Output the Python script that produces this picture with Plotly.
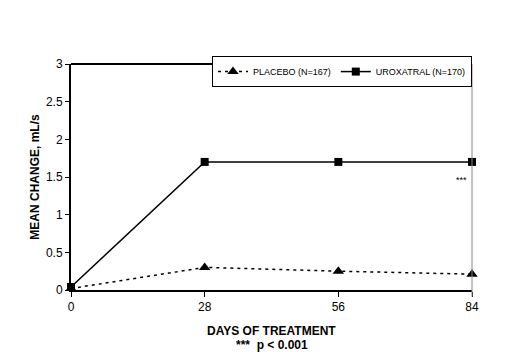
import plotly.graph_objects as go

days = [0, 28, 56, 84]
placebo = [0.02, 0.30, 0.25, 0.21]
uroxatral = [0.04, 1.70, 1.70, 1.70]
x_ticks = [0, 28, 56, 84]
y_ticks = [0, 0.5, 1, 1.5, 2, 2.5, 3]
y_tick_labels = ["0", "0.5", "1", "1.5", "2", "2.5", "3"]

font = "Liberation Sans, Arial, sans-serif"

fig = go.Figure()
fig.add_trace(go.Scatter(
    x=days, y=placebo, name="PLACEBO (N=167)", mode="lines+markers",
    line=dict(color="black", width=1.5, dash="3px,4px"),
    marker=dict(symbol="triangle-up", size=10, color="black"),
    cliponaxis=False,
))
fig.add_trace(go.Scatter(
    x=days, y=uroxatral, name="UROXATRAL (N=170)", mode="lines+markers",
    line=dict(color="black", width=1.5),
    marker=dict(symbol="square", size=8, color="black"),
    cliponaxis=False,
))

fig.update_layout(
    width=523, height=352,
    margin=dict(l=71, r=51, t=64, b=62),
    plot_bgcolor="white", paper_bgcolor="white",
    font=dict(family=font, color="black", size=12),
    showlegend=True,
    legend=dict(
        orientation="h", x=1, y=1.035, xanchor="right", yanchor="top",
        bordercolor="black", borderwidth=1, bgcolor="white",
        font=dict(size=9, family=font), itemwidth=30,
        tracegroupgap=0,
    ),
    xaxis=dict(
        range=[0, 84], tickvals=x_ticks, ticks="outside", ticklen=5,
        tickcolor="black", showline=True, linecolor="black", linewidth=2,
        showgrid=False, zeroline=False, tickfont=dict(size=12),
    ),
    yaxis=dict(
        range=[0, 3], tickvals=y_ticks, ticktext=y_tick_labels,
        ticks="outside", ticklen=4, tickcolor="black",
        showline=True, linecolor="black", linewidth=2,
        showgrid=False, zeroline=False, tickfont=dict(size=12),
        title=dict(text="<b>MEAN CHANGE, mL/s</b>", font=dict(size=12), standoff=4),
    ),
)

# top border
fig.add_shape(type="line", xref="paper", yref="paper", x0=0, x1=1, y0=1, y1=1,
              line=dict(color="black", width=2))
# right border (gray)
fig.add_shape(type="line", xref="paper", yref="paper", x0=1, x1=1, y0=-0.03, y1=1,
              line=dict(color="#888888", width=1))

fig.add_annotation(x=84, y=1.46, xref="x", yref="y", text="***", showarrow=False,
                   xanchor="right", xshift=-3, font=dict(size=9))
fig.add_annotation(x=0.5, y=-0.14, xref="paper", yref="paper",
                   text="<b>DAYS OF TREATMENT</b>", showarrow=False,
                   yanchor="top", font=dict(size=12))
fig.add_annotation(x=0.5, y=-0.205, xref="paper", yref="paper",
                   text="<b>***  p < 0.001</b>", showarrow=False,
                   yanchor="top", font=dict(size=12))

fig.write_html("out.html")
